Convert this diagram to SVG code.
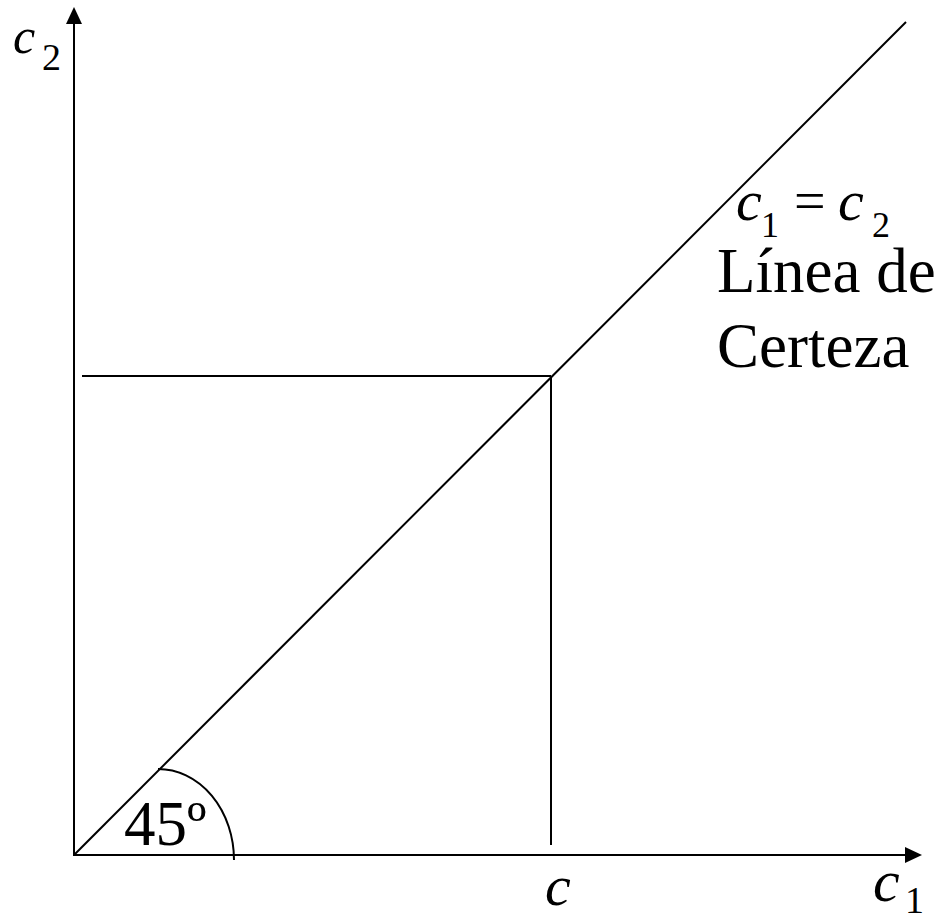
<svg xmlns="http://www.w3.org/2000/svg" width="945" height="916" viewBox="0 0 945 916">
<style>
.ln{stroke:#000;stroke-width:2;fill:none}
.t{font-family:"Liberation Serif","Times New Roman",serif;fill:#000}
.i{font-style:italic}
.s{font-style:normal}
</style>
<rect width="945" height="916" fill="#fff"/>
<g id="axes">
<line class="ln" x1="74" y1="856" x2="74" y2="22"/>
<polygon points="74,7 66,24 82,24" fill="#000"/>
<line class="ln" x1="73" y1="855" x2="907" y2="855"/>
<polygon points="922,855 905,847 905,863" fill="#000"/>
</g>
<g id="connectors">
<line class="ln" x1="74" y1="855" x2="906" y2="22"/>
<line class="ln" x1="82" y1="376" x2="551" y2="376"/>
<line class="ln" x1="551" y1="376" x2="551" y2="845"/>
<path class="ln" d="M158,769 A76,91 0 0 1 234,860"/>
</g>
<g id="labels">
<text class="t i" x="13" y="53" font-size="50">c<tspan class="s" x="42" y="70" font-size="38">2</tspan></text>
<text class="t i" x="736" y="220" font-size="58">c<tspan class="s" x="761" y="237" font-size="36">1</tspan><tspan class="s" x="794" y="220" font-size="56">=</tspan><tspan x="838" y="220">c</tspan><tspan class="s" x="872" y="237" font-size="36">2</tspan></text>
<text class="t" x="717" y="292" font-size="63">Línea de</text>
<text class="t" x="717" y="367" font-size="63">Certeza</text>
<text class="t" x="124" y="845" font-size="63">45º</text>
<text class="t i" x="545" y="905" font-size="58">c</text>
<text class="t i" x="873" y="901" font-size="60">c<tspan class="s" x="905" y="913" font-size="38">1</tspan></text>
</g>
</svg>
